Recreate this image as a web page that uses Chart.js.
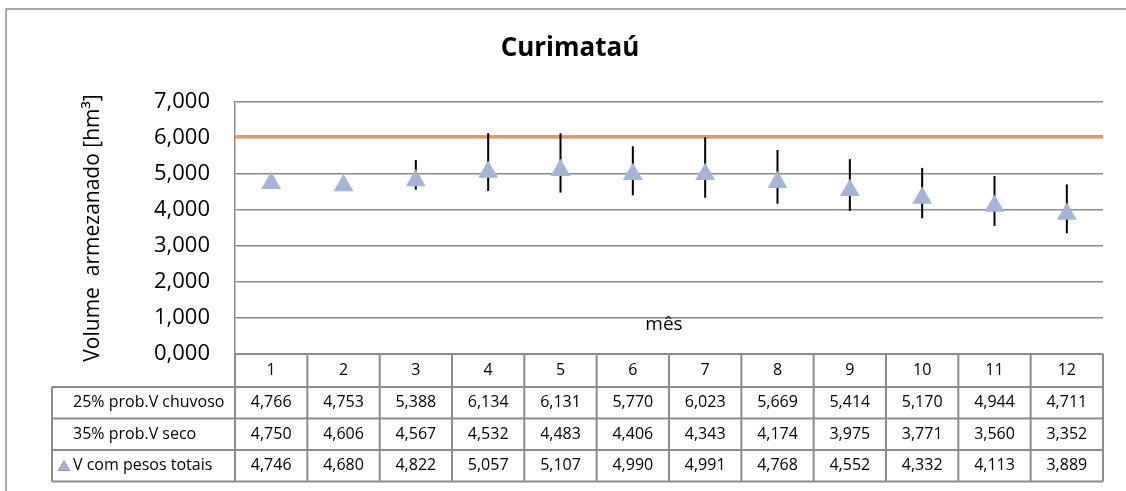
<!DOCTYPE html>
<html>
<head>
<meta charset="utf-8">
<script src="https://cdn.jsdelivr.net/npm/chart.js@4.4.0/dist/chart.umd.min.js"></script>
<style>
  body { margin: 0; background: #fff; }
  canvas { display: block; }
</style>
</head>
<body>
<canvas id="myChart" width="1126" height="491"></canvas>
<script>
// data
const months = ['1', '2', '3', '4', '5', '6', '7', '8', '9', '10', '11', '12'];
const chuvoso = [4.766, 4.753, 5.388, 6.134, 6.131, 5.770, 6.023, 5.669, 5.414, 5.170, 4.944, 4.711];
const seco = [4.750, 4.606, 4.567, 4.532, 4.483, 4.406, 4.343, 4.174, 3.975, 3.771, 3.560, 3.352];
const pesosTotais = [4.746, 4.680, 4.822, 5.057, 5.107, 4.990, 4.991, 4.768, 4.552, 4.332, 4.113, 3.889];
const rowLabels = ['25% prob.V chuvoso', '35% prob.V seco', 'V com pesos totais'];
const capacity = 6.04;

const FONT = "'Open Sans', 'Noto Sans', sans-serif";
const GRID = '#8c8c8c';
const MARKER = '#a4b4d4';

const fmt = v => v.toFixed(3).replace('.', ',');

// error bars + capacity line, drawn under the markers
const errorBars = {
  id: 'errorBars',
  beforeDatasetsDraw(chart) {
    const {ctx, chartArea, scales: {x, y}} = chart;
    ctx.save();
    ctx.strokeStyle = '#f79646';
    ctx.lineWidth = 3;
    const yc = y.getPixelForValue(capacity);
    ctx.beginPath();
    ctx.moveTo(chartArea.left, yc);
    ctx.lineTo(chartArea.right, yc);
    ctx.stroke();

    ctx.strokeStyle = '#000';
    ctx.lineWidth = 2;
    months.forEach((m, i) => {
      const px = x.getPixelForValue(i);
      ctx.beginPath();
      ctx.moveTo(px, y.getPixelForValue(chuvoso[i]));
      ctx.lineTo(px, y.getPixelForValue(seco[i]));
      ctx.stroke();
    });
    ctx.restore();
  }
};

// data table under the plot, frame, title, axis label
const dataTable = {
  id: 'dataTable',
  afterDraw(chart) {
    const {ctx, chartArea} = chart;
    const left = chartArea.left, right = chartArea.right, top = chartArea.bottom;
    const colW = (right - left) / months.length;
    const tableLeft = 52;
    const rowY = [top, 387, 418.5, 450, 481.5];

    ctx.save();
    ctx.strokeStyle = GRID;
    ctx.lineWidth = 2;
    ctx.beginPath();
    ctx.moveTo(left, rowY[0]);
    ctx.lineTo(right, rowY[0]);
    for (let r = 1; r < rowY.length; r++) {
      ctx.moveTo(tableLeft, rowY[r]);
      ctx.lineTo(right, rowY[r]);
    }
    ctx.moveTo(tableLeft, rowY[1]);
    ctx.lineTo(tableLeft, rowY[4]);
    for (let c = 0; c <= months.length; c++) {
      ctx.moveTo(left + c * colW, rowY[0]);
      ctx.lineTo(left + c * colW, rowY[4]);
    }
    ctx.stroke();

    ctx.fillStyle = '#000';
    ctx.font = '16px ' + FONT;
    ctx.textBaseline = 'middle';
    const rows = [chuvoso, seco, pesosTotais];
    rows.forEach((vals, r) => {
      const cy = (rowY[r + 1] + rowY[r + 2]) / 2;
      ctx.textAlign = 'left';
      ctx.fillText(rowLabels[r], 73, cy);
      ctx.textAlign = 'center';
      vals.forEach((v, i) => ctx.fillText(fmt(v), left + (i + 0.5) * colW, cy));
    });
    // legend key for the marker series
    Chart.helpers.drawPoint(ctx, {pointStyle: 'triangle', radius: 7, borderWidth: 0},
      64, (rowY[3] + rowY[4]) / 2 + 1.5);
    ctx.fillStyle = MARKER;
    ctx.fill();

    // outer frame (only top and left are inside the picture)
    ctx.strokeStyle = GRID;
    ctx.lineWidth = 1.5;
    ctx.beginPath();
    ctx.moveTo(6, 491);
    ctx.lineTo(6, 9);
    ctx.lineTo(1126, 9);
    ctx.stroke();

    // title and x axis label
    ctx.fillStyle = '#000';
    ctx.textAlign = 'center';
    ctx.font = 'bold 26px ' + FONT;
    ctx.fillText('Curimataú', 570, 49);
    ctx.font = '19px ' + FONT;
    ctx.fillText('mês', 664, 325);
    ctx.restore();
  }
};

new Chart(document.getElementById('myChart'), {
  type: 'line',
  data: {
    labels: months,
    datasets: [{
      label: rowLabels[2],
      data: pesosTotais,
      showLine: false,
      pointStyle: 'triangle',
      pointRadius: 11.5,
      pointHoverRadius: 11.5,
      pointBackgroundColor: MARKER,
      pointBorderWidth: 0
    }]
  },
  options: {
    responsive: false,
    animation: false,
    devicePixelRatio: 1,
    layout: { padding: { top: 102, left: 80, right: 23, bottom: 0 } },
    plugins: {
      legend: { display: false },
      title: { display: false },
      tooltip: { enabled: false }
    },
    scales: {
      x: {
        type: 'category',
        offset: true,
        grid: { display: false, drawTicks: false },
        border: { display: false },
        ticks: { color: '#000', font: { family: FONT, size: 16 }, padding: 7, maxRotation: 0 },
        afterFit: s => { s.height = 137; }
      },
      y: {
        min: 0,
        max: 7,
        grid: { color: GRID, lineWidth: 1.5, drawTicks: false },
        border: { color: GRID, width: 1.5 },
        ticks: { stepSize: 1, color: '#000', font: { family: FONT, size: 22 }, padding: 25,
                 callback: v => fmt(v) },
        title: { display: true, text: 'Volume  armezanado [hm³]', color: '#000',
                 font: { family: FONT, size: 21 }, padding: 0 },
        afterFit: s => { s.width = 155; }
      }
    }
  },
  plugins: [errorBars, dataTable]
});
</script>
</body>
</html>
